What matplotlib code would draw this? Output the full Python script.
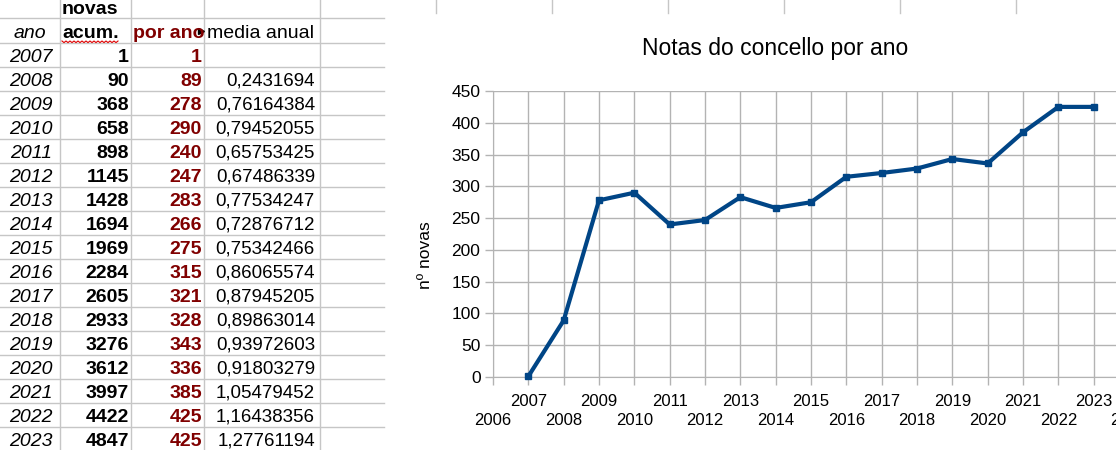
import numpy as np
import matplotlib
matplotlib.use("Agg")
import matplotlib.pyplot as plt
from matplotlib.patches import Rectangle

plt.rcParams['font.family'] = ['Liberation Sans', 'DejaVu Sans']

# data from the sheet
anos = [2007, 2008, 2009, 2010, 2011, 2012, 2013, 2014, 2015,
        2016, 2017, 2018, 2019, 2020, 2021, 2022, 2023]
novas_acum = [1, 90, 368, 658, 898, 1145, 1428, 1694, 1969,
              2284, 2605, 2933, 3276, 3612, 3997, 4422, 4847]
por_ano = [1, 89, 278, 290, 240, 247, 283, 266, 275,
           315, 321, 328, 343, 336, 385, 425, 425]
media_anual = [None, 0.2431694, 0.76164384, 0.79452055, 0.65753425,
               0.67486339, 0.77534247, 0.72876712, 0.75342466,
               0.86065574, 0.87945205, 0.89863014, 0.93972603,
               0.91803279, 1.05479452, 1.16438356, 1.27761194]

W, H = 1116, 450
fig = plt.figure(figsize=(W / 100, H / 100), dpi=100)

# spreadsheet layer in pixel coordinates
bg = fig.add_axes([0, 0, 1, 1])
bg.set_xlim(0, W)
bg.set_ylim(H, 0)
bg.axis('off')

grid_c = '#c6c6c6'
col_lines = [60, 131, 204, 320]
row_h = 24
row0 = 42.7
n = len(anos)

# sheet gridlines (left of the chart object)
for x in col_lines:
    bg.plot([x, x], [0, H], color=grid_c, lw=1)
for y in [18.3] + [row0 + i * row_h for i in range(n + 1)]:
    bg.plot([0, 384], [y, y], color=grid_c, lw=1)
# column lines visible above the chart
for x in [436, 552, 668, 784, 900, 1016]:
    bg.plot([x, x], [0, 13], color=grid_c, lw=1)

fs = 14
fs_num = 13.5
dark_red = '#800000'

# header rows
bg.text(62, 14, 'novas', fontsize=fs, fontweight='bold', va='baseline')
bg.text(30, 38, 'ano', fontsize=fs, style='italic', ha='center', va='baseline')
bg.text(62, 38, 'acum.', fontsize=fs, fontweight='bold', va='baseline')
wx = np.arange(62, 119, 2)
bg.plot(wx, 41 + np.where(np.arange(len(wx)) % 2 == 0, 0, 1.6), color='#e00000', lw=0.8)
t = bg.text(133, 38, 'por ano', fontsize=fs, fontweight='bold', color=dark_red, va='baseline')
t.set_clip_path(Rectangle((131, 18), 69, 25, transform=bg.transData))
bg.plot([201], [31], marker='>', color='black', markersize=4)
bg.text(207, 38, 'media anual', fontsize=fs, va='baseline')

for i in range(n):
    yb = row0 + (i + 1) * row_h - 5
    bg.text(31, yb, str(anos[i]), fontsize=fs, style='italic', ha='center', va='baseline')
    bg.text(129, yb, str(novas_acum[i]), fontsize=fs, fontweight='bold', ha='right', va='baseline')
    bg.text(202, yb, str(por_ano[i]), fontsize=fs, fontweight='bold', color=dark_red,
            ha='right', va='baseline')
    if media_anual[i] is not None:
        bg.text(315, yb, str(media_anual[i]).replace('.', ','), fontsize=fs_num,
                ha='right', va='baseline')

# chart
x0, x1, yb0, yt0 = 493, 1129, 377, 91
ax = fig.add_axes([x0 / W, (H - yb0) / H, (x1 - x0) / W, (yb0 - yt0) / H])
line_c = '#004586'
ax.plot(anos, por_ano, color=line_c, lw=3, marker='s', markersize=5,
        solid_joinstyle='round', clip_on=False, zorder=3)
ax.set_xlim(2006, 2024)
ax.set_ylim(0, 450)
years = list(range(2006, 2025))
ax.set_xticks(years)
ax.set_xticklabels([str(y) if y % 2 else '\n' + str(y) for y in years], fontsize=12)
ax.set_yticks(range(0, 451, 50))
ax.tick_params(axis='y', labelsize=12.5, length=6, width=1, color='#b3b3b3', pad=3)
ax.tick_params(axis='x', length=6, width=1, color='#b3b3b3', pad=6.5)
for lbl in ax.get_xticklabels():
    lbl.set_linespacing(1.27)
ax.grid(True, color='#b3b3b3', lw=1)
ax.set_axisbelow(True)
for s in ['top', 'right']:
    ax.spines[s].set_visible(False)
for s in ['left', 'bottom']:
    ax.spines[s].set_color('#b3b3b3')
ax.set_ylabel('nº novas', fontsize=12.5)
ax.yaxis.set_label_coords(-0.094, 0.427)

fig.text(775 / W, 1 - 48 / H, 'Notas do concello por ano', fontsize=16.5,
         ha='center', va='center')

fig.savefig('out.png', dpi=100)
